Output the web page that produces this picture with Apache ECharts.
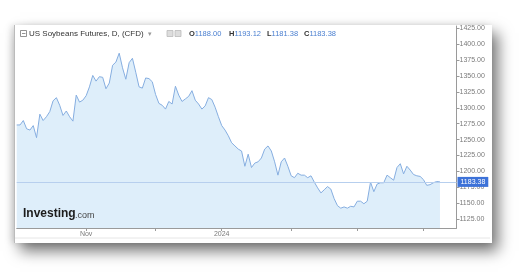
<!DOCTYPE html>
<html><head><meta charset="utf-8">
<script src="https://cdn.jsdelivr.net/npm/echarts@6/dist/echarts.min.js"></script>
<style>
html,body{margin:0;padding:0;background:#fff;width:523px;height:277px;overflow:hidden;}
#panel{position:absolute;left:14px;top:25px;width:477px;height:218px;background:#fff;border-left:1px solid #bbb;
box-shadow:6px 8px 14px rgba(0,0,0,0.55),-3px 0 6px rgba(0,0,0,0.12);}
#c{position:absolute;left:0;top:0;width:523px;height:277px;}
</style></head>
<body>
<div id="panel"></div>
<div id="c"></div>
<script>
// closing prices, one per trading day (Oct 3 2023 .. Apr 8 2024)
const prices = [
1273,1273,1280,1267,1265,1272,1253,1290,1280,1286,
1294,1311,1316,1304,1288,1295,1286,1279,1320,1309,
1312,1319,1333,1351,1342,1349,1348,1330,1339,1367,
1372,1386,1363,1345,1371,1378,1356,1333,1331,1347,
1346,1341,1321,1307,1304,1298,1310,1306,1334,1320,
1310,1314,1318,1327,1312,1306,1298,1303,1316,1313,
1301,1286,1272,1265,1256,1245,1240,1235,1232,1208,
1227,1206,1213,1215,1221,1235,1240,1232,1215,1194,
1215,1221,1208,1193,1190,1197,1194,1194,1190,1193,
1183,1174,1166,1171,1176,1172,1157,1146,1142,1144,
1142,1145,1144,1153,1153,1149,1153,1183,1168,1180,
1182,1182,1194,1190,1186,1206,1212,1196,1208,1202,
1195,1193,1192,1187,1178,1179,1182,1184,1183.38
];
const lastPrice = 1183.38;
const ohlc = {O:'1188.00', H:'1193.12', L:'1181.38', C:'1183.38'};
const startDate = '2023-10-03';
const holidays = ['2023-11-23','2023-12-25','2024-01-01','2024-01-15','2024-02-19','2024-03-29'];
const trailingEmpty = 5;
const monthTicks = ['2023-11-01','2023-12-01','2024-01-02','2024-02-01','2024-03-01','2024-04-01'];
const monthLabels = {'2023-11-01':'Nov','2024-01-02':'2024'};
const yTicks = [1125,1150,1175,1200,1225,1250,1275,1300,1325,1350,1375,1400,1425];

// trading-day categories
const dates = [];
(function(){
  const d = new Date(startDate + 'T12:00:00Z');
  const total = prices.length + trailingEmpty;
  while (dates.length < total) {
    const s = d.toISOString().slice(0,10);
    const wd = d.getUTCDay();
    if (wd !== 0 && wd !== 6 && holidays.indexOf(s) < 0) dates.push(s);
    d.setUTCDate(d.getUTCDate() + 1);
  }
})();
const seriesData = dates.map((d,i) => i < prices.length ? prices[i] : null);

const chart = echarts.init(document.getElementById('c'), null, {renderer:'canvas'});
const FONT = 'Liberation Sans';
chart.setOption({
  animation:false,
  backgroundColor:'transparent',
  grid:{left:16.7, right:66.5, top:26, bottom:49, containLabel:false},
  xAxis:{
    type:'category', data:dates, boundaryGap:false,
    axisLine:{lineStyle:{color:'#9a9a9a', width:1}},
    axisTick:{show:true, length:3, lineStyle:{color:'#9a9a9a'},
      interval:(i,v)=>monthTicks.indexOf(v)>=0},
    axisLabel:{interval:(i,v)=>monthLabels[v]!==undefined, formatter:v=>monthLabels[v]||'',
      color:'#7a7a7a', fontSize:7, fontFamily:FONT, margin:3},
    splitLine:{show:false}
  },
  yAxis:{
    type:'value', position:'right', min:1110.8, max:1428.8, scale:true,
    axisLine:{show:true, lineStyle:{color:'#9a9a9a'}},
    axisTick:{show:true, length:3, lineStyle:{color:'#9a9a9a'}, customValues:yTicks},
    axisLabel:{color:'#7a7a7a', fontSize:7, fontFamily:FONT, margin:3, customValues:yTicks,
      formatter:v=>v.toFixed(2)},
    splitLine:{show:false}
  },
  series:[{
    type:'line', data:seriesData, symbol:'none', connectNulls:false,
    lineStyle:{color:'#86aee0', width:1},
    areaStyle:{color:'#deeefa', origin:'start', opacity:1},
    markLine:{
      silent:true, symbol:['none','none'],
      lineStyle:{color:'#b7cfee', width:1.2, type:'solid'},
      label:{show:true, position:'end', formatter:lastPrice.toFixed(2), color:'#fff',
        backgroundColor:'#3d72d8', fontSize:7, fontFamily:FONT, padding:[2,3,1,3], distance:1},
      data:[{yAxis:lastPrice}]
    }
  }],
  graphic:{elements:[
    {type:'rect', z:100, shape:{x:20.5,y:30.5,width:6,height:6}, style:{fill:'#fff', stroke:'#777', lineWidth:0.8}},
    {type:'line', z:100, shape:{x1:22,y1:33.5,x2:25.5,y2:33.5}, style:{stroke:'#777', lineWidth:0.8}},
    {type:'text', z:100, x:29, y:34, style:{text:'US Soybeans Futures, D, (CFD)', fill:'#333', font:'8px "Liberation Sans"', verticalAlign:'middle'}},
    {type:'text', z:100, x:148, y:34, style:{text:'▾', fill:'#999', font:'7px "DejaVu Sans"', verticalAlign:'middle'}},
    {type:'rect', z:100, shape:{x:167,y:30.5,width:6,height:6}, style:{fill:'#ddd', stroke:'#bbb', lineWidth:0.8}},
    {type:'rect', z:100, shape:{x:175,y:30.5,width:6,height:6}, style:{fill:'#ddd', stroke:'#bbb', lineWidth:0.8}},
    ...[['O',189],['H',229],['L',267],['C',304]].map(([k,x])=>({
      type:'text', z:100, x:x, y:34, style:{text:'{k|'+k+'}{v|'+ohlc[k]+'}', verticalAlign:'middle',
        rich:{k:{fill:'#333', font:'bold 7.5px "Liberation Sans"'}, v:{fill:'#4a7fd0', font:'7.5px "Liberation Sans"'}}}
    })),
    {type:'text', z:100, x:23, y:208, style:{text:'Investing', fill:'#1b1b1b', font:'bold 12px "Liberation Sans"'}},
    {type:'text', z:100, x:75, y:211, style:{text:'.com', fill:'#444', font:'9px "Liberation Sans"'}},
    {type:'line', z:100, shape:{x1:15,y1:238,x2:490,y2:238}, style:{stroke:'#e6e6e6', lineWidth:1}}
  ]}
});
</script>
</body></html>
